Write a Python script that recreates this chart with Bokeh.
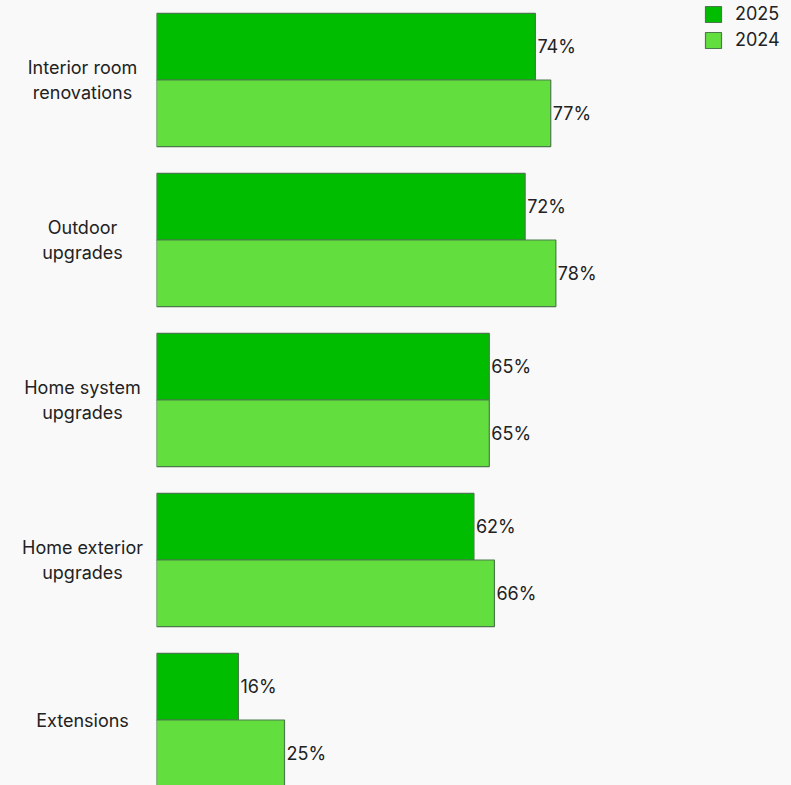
from bokeh.plotting import figure
from bokeh.layouts import row
from bokeh.models import ColumnDataSource, Range1d, Legend, LegendItem
from bokeh.embed import file_html
from bokeh.resources import INLINE

categories = ["Interior room\nrenovations", "Outdoor\nupgrades", "Home system\nupgrades",
              "Home exterior\nupgrades", "Extensions"]
values_2025 = [74, 72, 65, 62, 16]
values_2024 = [77, 78, 65, 66, 25]
series_names = ["2025", "2024"]
colors = ["#00bd00", "#62de3f"]

FONT = "Inter"
BG = "#f9f9f9"
W, H = 791, 785
left = 156
pxper = 5.12
FS = "18px"

idx = list(range(len(categories)))
bh = 0.416
y25 = [i - bh / 2 for i in idx]
y24 = [i + bh / 2 for i in idx]

s25 = ColumnDataSource(dict(y=y25, v=values_2025, lab=[f"{v}%" for v in values_2025]))
s24 = ColumnDataSource(dict(y=y24, v=values_2024, lab=[f"{v}%" for v in values_2024]))
scat = ColumnDataSource(dict(y=idx, name=categories))

yr = Range1d(start=(H - 79.5) / 160, end=-79.5 / 160)

# left panel with category labels
pl = figure(width=left, height=H, output_backend="svg", toolbar_location=None,
            x_range=Range1d(0, left), y_range=yr,
            min_border_left=0, min_border_right=0, min_border_top=0, min_border_bottom=0,
            background_fill_color=BG, border_fill_color=BG)
pl.outline_line_color = None
pl.grid.visible = False
pl.axis.visible = False
pl.text(x=82, y="y", text="name", source=scat, text_align="center", text_baseline="middle",
        text_font={"value": FONT}, text_font_size=FS, text_color="#222222",
        text_line_height=1.15)

p = figure(width=W - left, height=H, output_backend="svg", toolbar_location=None,
           x_range=Range1d(0, (W - left) / pxper), y_range=yr,
           min_border_left=0, min_border_right=0, min_border_top=0, min_border_bottom=0,
           background_fill_color=BG, border_fill_color=BG)
p.outline_line_color = None
p.grid.visible = False
p.axis.visible = False

r25 = p.hbar(y="y", right="v", left=0, height=bh, source=s25, fill_color=colors[0],
             line_color="#4d7a4d", line_width=1.2)
r24 = p.hbar(y="y", right="v", left=0, height=bh, source=s24, fill_color=colors[1],
             line_color="#4d7a4d", line_width=1.2)

for src in (s25, s24):
    p.text(x="v", y="y", text="lab", source=src, x_offset=2, text_baseline="middle",
           text_align="left", text_font_size=FS, text_color="#222222",
           text_font={"value": FONT})

legend = Legend(items=[LegendItem(label=series_names[0], renderers=[r25]),
                       LegendItem(label=series_names[1], renderers=[r24])],
                location=(547, 735), background_fill_alpha=0, border_line_color=None,
                label_text_font=FONT, label_text_font_size=FS, label_text_color="#222222",
                glyph_width=20, glyph_height=20, spacing=5, padding=0, margin=0,
                label_standoff=12)
p.add_layout(legend)

layout = row(pl, p, spacing=0, styles={"background-color": BG})
open("out.html", "w").write(file_html(layout, INLINE))
